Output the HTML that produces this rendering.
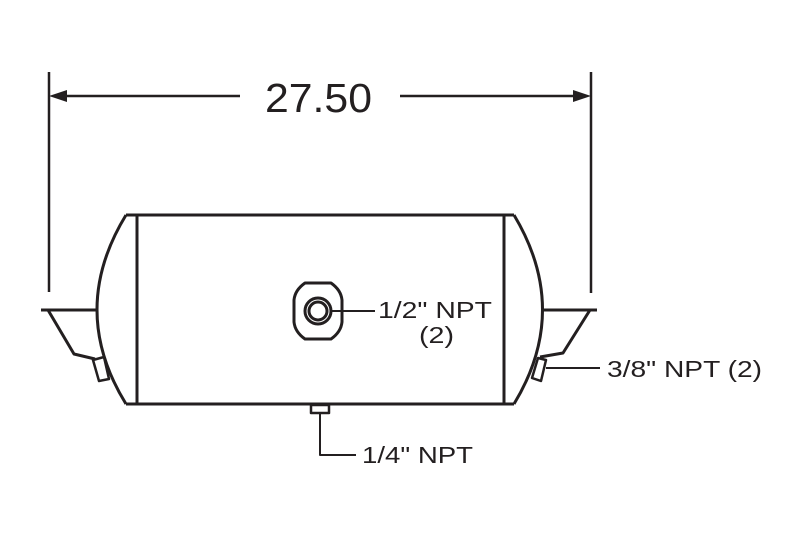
<!DOCTYPE html>
<html><head><style>
html,body{margin:0;padding:0;background:#fff;}
svg{display:block;}
text{font-family:"Liberation Sans",sans-serif;fill:#231f20;}
</style></head><body>
<svg width="800" height="534" viewBox="0 0 800 534" xmlns="http://www.w3.org/2000/svg">
<g stroke="#231f20" fill="none" stroke-width="3" stroke-linejoin="round">
<line x1="49" y1="72" x2="49" y2="292" stroke-width="2.5"/>
<line x1="591" y1="72" x2="591" y2="293" stroke-width="2.5"/>
<line x1="60" y1="96" x2="240" y2="96" stroke-width="2.5"/>
<line x1="400" y1="96" x2="580" y2="96" stroke-width="2.5"/>
<line x1="126" y1="215" x2="514" y2="215"/>
<line x1="126" y1="404" x2="514" y2="404"/>
<line x1="137" y1="215" x2="137" y2="404"/>
<line x1="504" y1="215" x2="504" y2="404"/>
<path d="M126 215 Q68 310 126 404"/>
<path d="M514 215 Q571 310 514 404"/>
<line x1="41" y1="310" x2="97" y2="310"/>
<polyline points="48,310 74,354 95,359"/>
<polygon points="93,360 104,357 109,379 99,381" stroke-width="2.5"/>
<line x1="543" y1="310" x2="597" y2="310"/>
<polyline points="590,310 563,353 540,357"/>
<polygon points="538,358 546,360 541,381 532,378" stroke-width="2.5"/>
<line x1="546" y1="368" x2="600" y2="368" stroke-width="2"/>
<path d="M305 283 L331 283 Q341 290 342 300 L342 322 Q341 332 331 339 L305 339 Q295 332 294 322 L294 300 Q295 290 305 283 Z"/>
<circle cx="318" cy="311" r="13"/>
<circle cx="318" cy="311" r="9"/>
<line x1="331" y1="311" x2="375" y2="311" stroke-width="2"/>
<rect x="311" y="405" width="18" height="8" stroke-width="2.5"/>
<polyline points="320,413 320,455 356,455" stroke-width="2"/>
</g>
<polygon points="49,96 67,90 67,102" fill="#231f20"/>
<polygon points="591,96 573,90 573,102" fill="#231f20"/>
<text x="265" y="112" font-size="41" textLength="107" lengthAdjust="spacingAndGlyphs">27.50</text>
<text x="378" y="318" font-size="23" textLength="114" lengthAdjust="spacingAndGlyphs">1/2" NPT</text>
<text x="419" y="343" font-size="23" textLength="35" lengthAdjust="spacingAndGlyphs">(2)</text>
<text x="607" y="377" font-size="23" textLength="155" lengthAdjust="spacingAndGlyphs">3/8" NPT (2)</text>
<text x="362" y="463" font-size="23" textLength="111" lengthAdjust="spacingAndGlyphs">1/4" NPT</text>
</svg>
</body></html>
